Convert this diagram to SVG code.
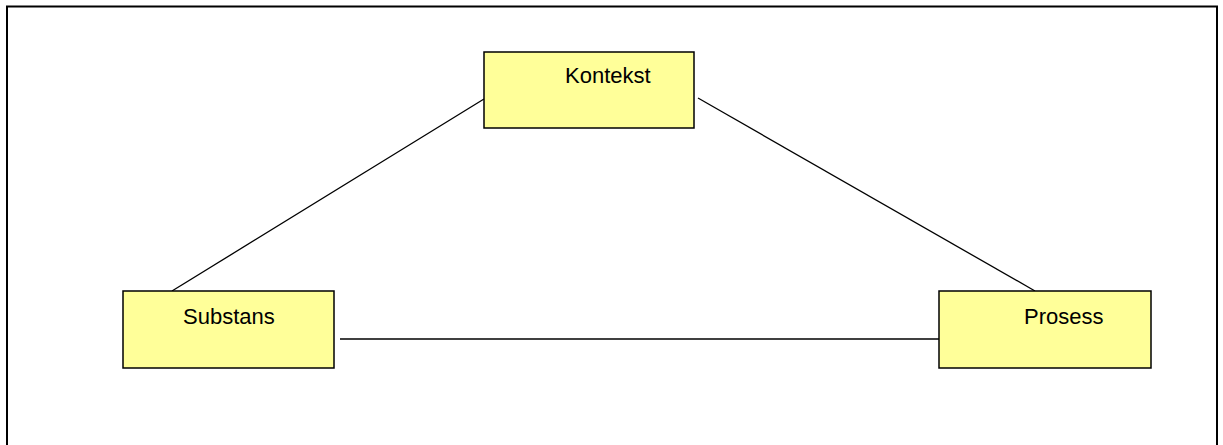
<svg xmlns="http://www.w3.org/2000/svg" width="1223" height="445" viewBox="0 0 1223 445">
  <style>
    .box { fill: #FFFF99; stroke: #000; stroke-width: 1.5; }
    .label { font-family: "Liberation Sans", Arial, sans-serif; font-size: 22px; fill: #000; }
    .link { stroke: #000; stroke-width: 1.3; fill: none; }
  </style>
  <rect x="0" y="0" width="1223" height="445" fill="#fff"/>
  <!-- outer frame, open at the bottom edge -->
  <path d="M7,460 V6.5 H1217 V460" fill="none" stroke="#000" stroke-width="2"/>
  <g id="connectors">
    <line class="link" x1="484" y1="99" x2="172" y2="291"/>
    <line class="link" x1="698" y1="98" x2="1035" y2="291"/>
    <line class="link" x1="340" y1="339" x2="939" y2="339"/>
  </g>
  <g id="kontekst">
    <rect class="box" x="484" y="52" width="210" height="76"/>
    <text class="label" x="565" y="83">Kontekst</text>
  </g>
  <g id="substans">
    <rect class="box" x="123" y="291" width="211" height="77"/>
    <text class="label" x="183" y="324">Substans</text>
  </g>
  <g id="prosess">
    <rect class="box" x="939" y="291" width="212" height="77"/>
    <text class="label" x="1024" y="324">Prosess</text>
  </g>
</svg>
